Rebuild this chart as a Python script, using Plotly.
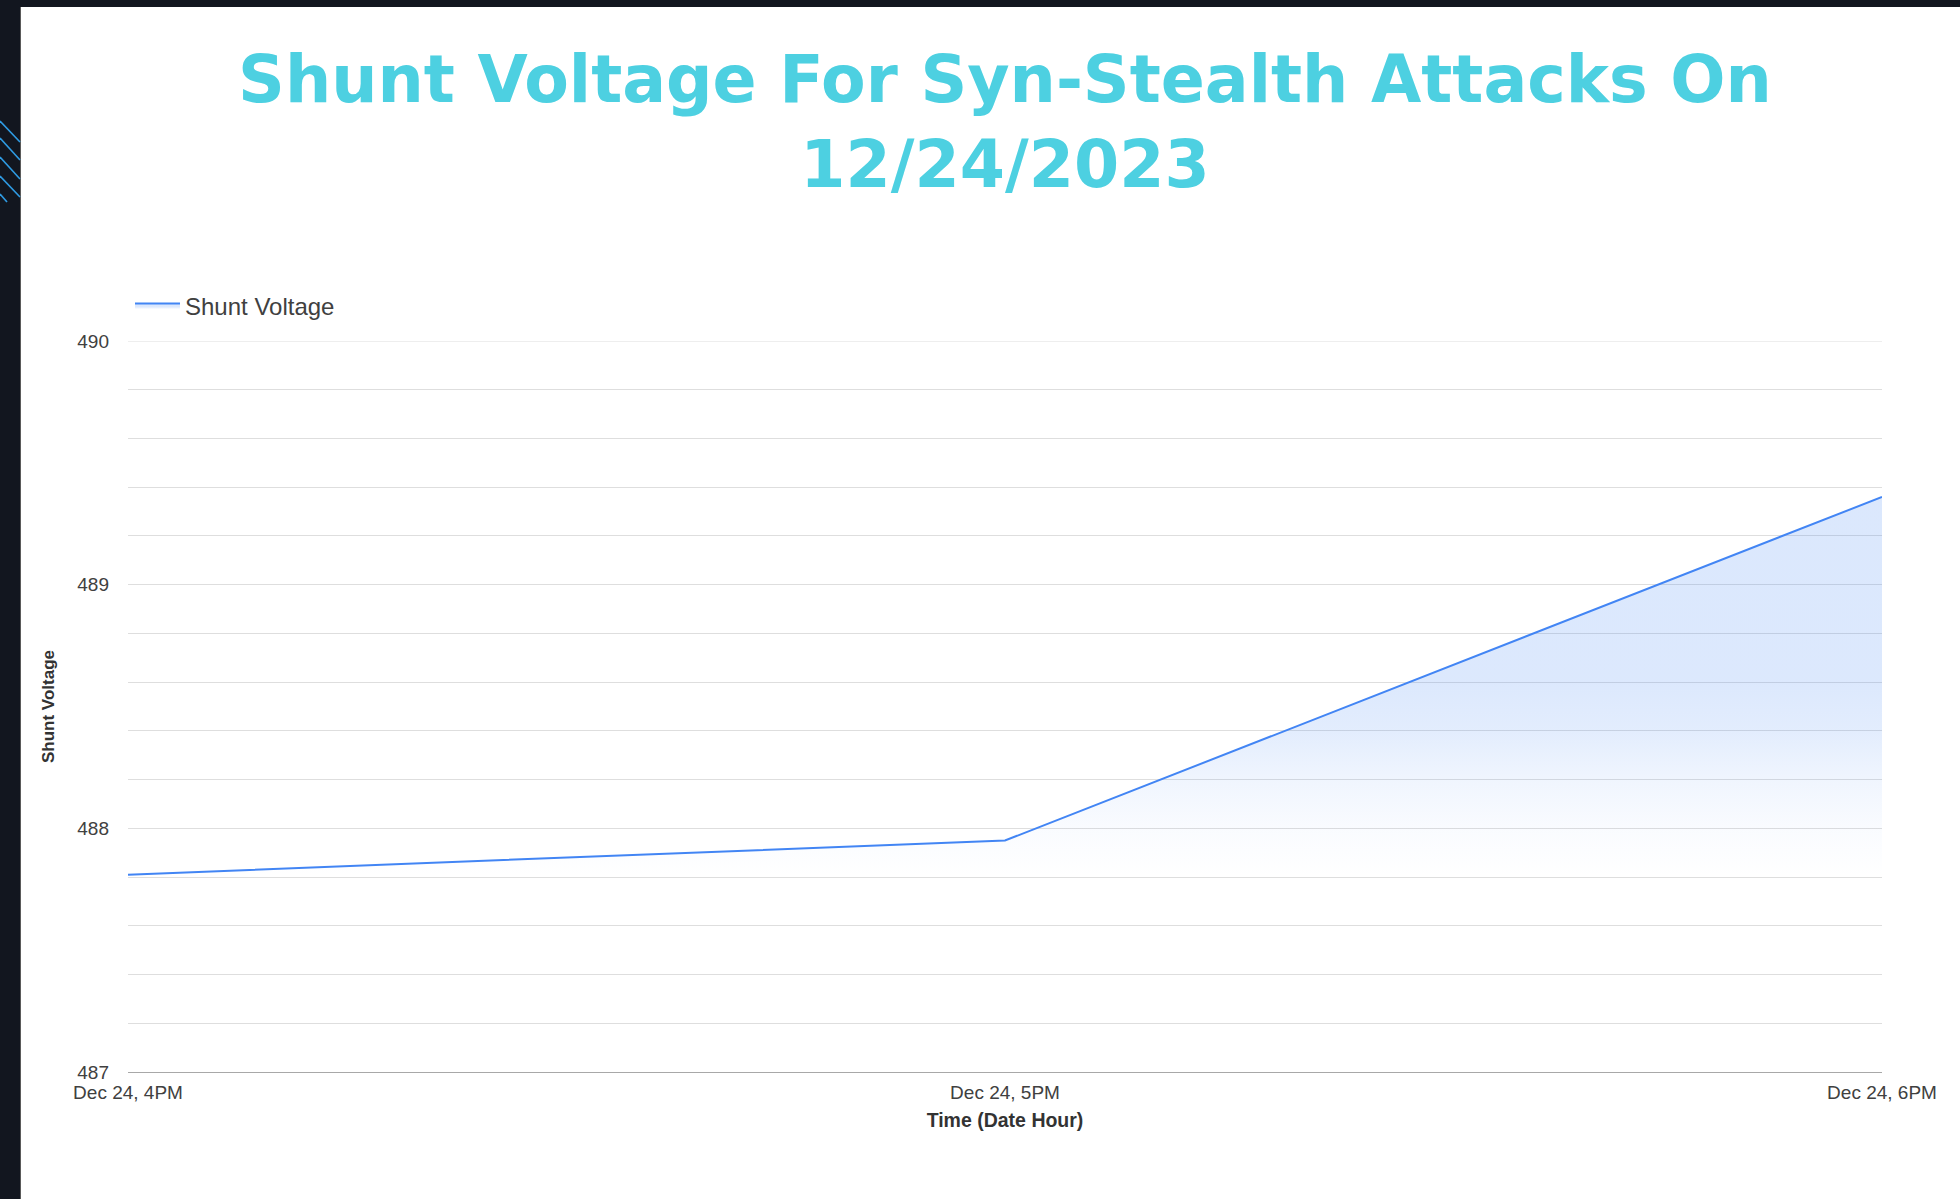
import plotly.graph_objects as go

# Hourly shunt voltage readings
times = ["2023-12-24 16:00", "2023-12-24 17:00", "2023-12-24 18:00"]
shunt_voltage = [487.81, 487.95, 489.36]
x_tick_labels = ["Dec 24, 4PM", "Dec 24, 5PM", "Dec 24, 6PM"]
y_ticks = [487, 488, 489, 490]

W, H = 1960, 1199
L, R, T, B = 128, 78, 341, 127
PW, PH = W - L - R, H - T - B


def px(x):
    """Pixel x -> paper x."""
    return (x - L) / PW


def py(y):
    """Pixel y (from top) -> paper y."""
    return (H - B - y) / PH


DARK = "#12161f"
TEXT = "#404040"
GRID = "#dedede"
Y_MIN, Y_MAX = 487, 490

fig = go.Figure()
fig.add_trace(go.Scatter(
    x=times, y=shunt_voltage, mode="lines", name="Shunt Voltage",
    line=dict(color="#4285f4", width=2),
    fill="tozeroy",
    fillgradient=dict(
        type="vertical", start=487.8, stop=max(shunt_voltage),
        colorscale=[[0, "rgba(66,133,244,0)"], [0.128, "rgba(66,133,244,0.03)"],
                    [0.256, "rgba(66,133,244,0.08)"], [0.385, "rgba(66,133,244,0.15)"],
                    [0.513, "rgba(66,133,244,0.185)"], [1, "rgba(66,133,244,0.19)"]],
    ),
))

# page frame: dark strips on the top and left with a hatch accent
shapes = [
    # top gridline (the edge gridline is clipped by plotly)
    dict(type="line", xref="paper", yref="y", x0=0, x1=1, y0=Y_MAX, y1=Y_MAX,
         line=dict(color=GRID, width=1), layer="below"),
    dict(type="rect", xref="paper", yref="paper", x0=px(0), x1=px(W), y0=py(7), y1=py(-2),
         fillcolor=DARK, line=dict(width=0), layer="above"),
    dict(type="rect", xref="paper", yref="paper", x0=px(-2), x1=px(20), y0=py(H + 2), y1=py(-2),
         fillcolor=DARK, line=dict(width=0), layer="above"),
    dict(type="line", xref="paper", yref="paper", x0=px(20.5), x1=px(20.5), y0=py(H), y1=py(7),
         line=dict(color="#5a5a5a", width=1), layer="above"),
]
hatch = [((0, 121), (20, 142)), ((0, 138), (20, 160)), ((0, 157), (20, 179)),
         ((0, 176), (20, 197)), ((0, 194), (7, 202))]
for (xa, ya), (xb, yb) in hatch:
    shapes.append(dict(type="line", xref="paper", yref="paper",
                       x0=px(xa), y0=py(ya), x1=px(xb), y1=py(yb),
                       line=dict(color="#2f9be3", width=1.6), layer="above"))

fig.update_layout(
    width=W, height=H,
    margin=dict(l=L, r=R, t=T, b=B, autoexpand=False),
    paper_bgcolor="white", plot_bgcolor="white",
    font=dict(family="Liberation Sans, Arial, sans-serif", color=TEXT),
    title=dict(
        text="Shunt Voltage For Syn-Stealth Attacks On<br>12/24/2023",
        x=0.5, xref="paper", xanchor="center",
        y=1 - 102 / H, yref="container", yanchor="middle",
        font=dict(family="DejaVu Sans, sans-serif", size=65, color="#4dd0e1", weight=700),
    ),
    showlegend=True,
    legend=dict(
        orientation="h", x=px(130), xanchor="left", y=py(306), yanchor="middle",
        font=dict(size=24, color=TEXT), bgcolor="rgba(0,0,0,0)", itemwidth=45,
    ),
    xaxis=dict(
        type="date", range=[times[0], times[-1]],
        tickvals=times, ticktext=x_tick_labels,
        tickfont=dict(size=19, color=TEXT),
        ticklabelstandoff=3,
        showgrid=False, zeroline=False,
        showline=True, linecolor="#a8a8a8", linewidth=1,
        title=dict(text="Time (Date Hour)", standoff=11,
                   font=dict(size=19.5, color="#333333", weight=700)),
    ),
    yaxis=dict(
        range=[Y_MIN, Y_MAX], tickvals=y_ticks,
        tickfont=dict(size=19, color=TEXT),
        gridcolor=GRID, gridwidth=1, zeroline=False,
        minor=dict(dtick=0.2, tick0=Y_MIN, showgrid=True, gridcolor=GRID, gridwidth=1),
        ticklabelstandoff=18,
        title=dict(text="Shunt Voltage", standoff=18,
                   font=dict(size=17, color="#333333", weight=700)),
    ),
    shapes=shapes,
)

fig.write_html("out.html")
